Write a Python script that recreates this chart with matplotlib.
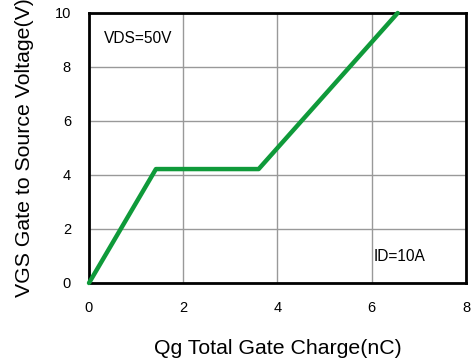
import matplotlib.pyplot as plt

# gate charge curve
qg = [0, 1.42, 3.6, 6.55]
vgs = [0, 4.22, 4.22, 10]
xticks = [0, 2, 4, 6, 8]
yticks = [0, 2, 4, 6, 8, 10]

plt.rcParams['font.family'] = ['Liberation Sans', 'DejaVu Sans']

fig = plt.figure(figsize=(4.77, 3.6), dpi=100)
ax = fig.add_axes([89 / 477, 1 - 283 / 360, (466 - 89) / 477, (283 - 13) / 360])

ax.plot(qg, vgs, color='#0f9a3a', linewidth=3.2, solid_capstyle='round', zorder=3, clip_on=False)

ax.set_xlim(0, 8)
ax.set_ylim(0, 10)
ax.set_xticks(xticks)
ax.set_yticks(yticks)
ax.tick_params(length=0, labelsize=10.5, pad=13)
ax.grid(True, color='#999999', linewidth=1)
for s in ax.spines.values():
    s.set_linewidth(2)
    s.set_color('black')

ax.set_xlabel('Qg Total Gate Charge(nC)', fontsize=15.3, labelpad=17)
ax.set_ylabel('VGS Gate to Source Voltage(V)', fontsize=15.3, labelpad=15)

ax.text(0.32, 9.05, 'VDS=50V', fontsize=11.2, va='center')
ax.text(6.05, 0.98, 'ID=10A', fontsize=11.2, va='center')

fig.savefig('out.png', dpi=100)
